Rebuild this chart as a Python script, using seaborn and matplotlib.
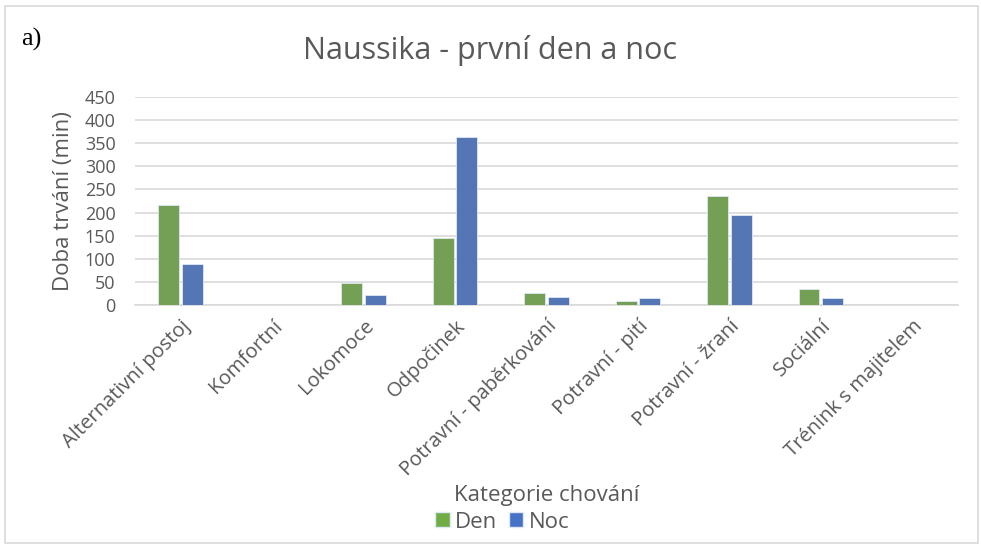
import pandas as pd
import matplotlib
matplotlib.use('Agg')
import matplotlib.pyplot as plt
import matplotlib.patches as mpatches
import seaborn as sns

# data (minutes)
categories = ['Alternativní postoj', 'Komfortní', 'Lokomoce', 'Odpočinek',
              'Potravní - paběrkování', 'Potravní - pití', 'Potravní - žraní',
              'Sociální', 'Trénink s majitelem']
den = [216, 0, 47, 144, 27, 9, 236, 35, 0]
noc = [88, 0, 22, 364, 17, 15, 195, 15, 0]
series = ['Den', 'Noc']
yticks = [0, 50, 100, 150, 200, 250, 300, 350, 400, 450]

green = '#70AD47'
blue = '#4472C4'
txt = '#595959'

df = pd.DataFrame({
    'kategorie': categories * 2,
    'serie': ['Den'] * len(categories) + ['Noc'] * len(categories),
    'doba': den + noc,
})

sns.set_theme(style='white')
plt.rcParams['font.family'] = ['Open Sans', 'DejaVu Sans']

fig = plt.figure(figsize=(9.81, 5.45), dpi=100)
ax = fig.add_axes([0.1376, 0.4404, 0.839, 0.3817])

sns.barplot(data=df, x='kategorie', y='doba', hue='serie', order=categories,
            hue_order=series, palette=[green, blue], width=0.52, gap=0.12,
            edgecolor='#dfe8f5', linewidth=0.6, ax=ax, legend=False, zorder=3)

ax.set_ylim(0, 450)
ax.set_yticks(yticks)
ax.set_xlim(-0.5, len(categories) - 0.5)
ax.yaxis.grid(True, color='#d9d9d9', linewidth=1.2, zorder=0)
ax.set_axisbelow(True)
for s in ['top', 'right', 'left']:
    ax.spines[s].set_visible(False)
ax.spines['bottom'].set_color('#d9d9d9')
ax.spines['bottom'].set_linewidth(1.2)
ax.tick_params(axis='both', length=0, colors=txt)
ax.tick_params(axis='y', pad=14, labelsize=13)
ax.tick_params(axis='x', pad=8, labelsize=14.5)
plt.setp(ax.get_xticklabels(), rotation=45, ha='right', rotation_mode='anchor')

ax.set_xlabel('')
ax.set_ylabel('Doba trvání (min)', fontsize=16, color=txt, labelpad=8)

fig.text(0.5, 0.908, 'Naussika - první den a noc', ha='center', va='center',
         fontsize=22, color=txt)
fig.text(0.022, 0.927, 'a)', ha='left', va='center', fontsize=19,
         family='Liberation Serif', color='black')
fig.text(0.557, 0.09, 'Kategorie chování', ha='center', va='center',
         fontsize=16, color=txt)

handles = [mpatches.Patch(facecolor=green, edgecolor='#dfe8f5', label='Den'),
           mpatches.Patch(facecolor=blue, edgecolor='#dfe8f5', label='Noc')]
leg = fig.legend(handles=handles, loc='center', bbox_to_anchor=(0.512, 0.042),
                 ncol=2, frameon=False, fontsize=16, handlelength=0.65,
                 handleheight=0.65, handletextpad=0.25, columnspacing=0.5)
for t in leg.get_texts():
    t.set_color(txt)

# light outer frame
fig.patches.append(mpatches.Rectangle((0.005, 0.004), 0.992, 0.985,
                                      transform=fig.transFigure, fill=False,
                                      edgecolor='#d9d9d9', linewidth=1.2))

fig.savefig('out.png', dpi=100)
